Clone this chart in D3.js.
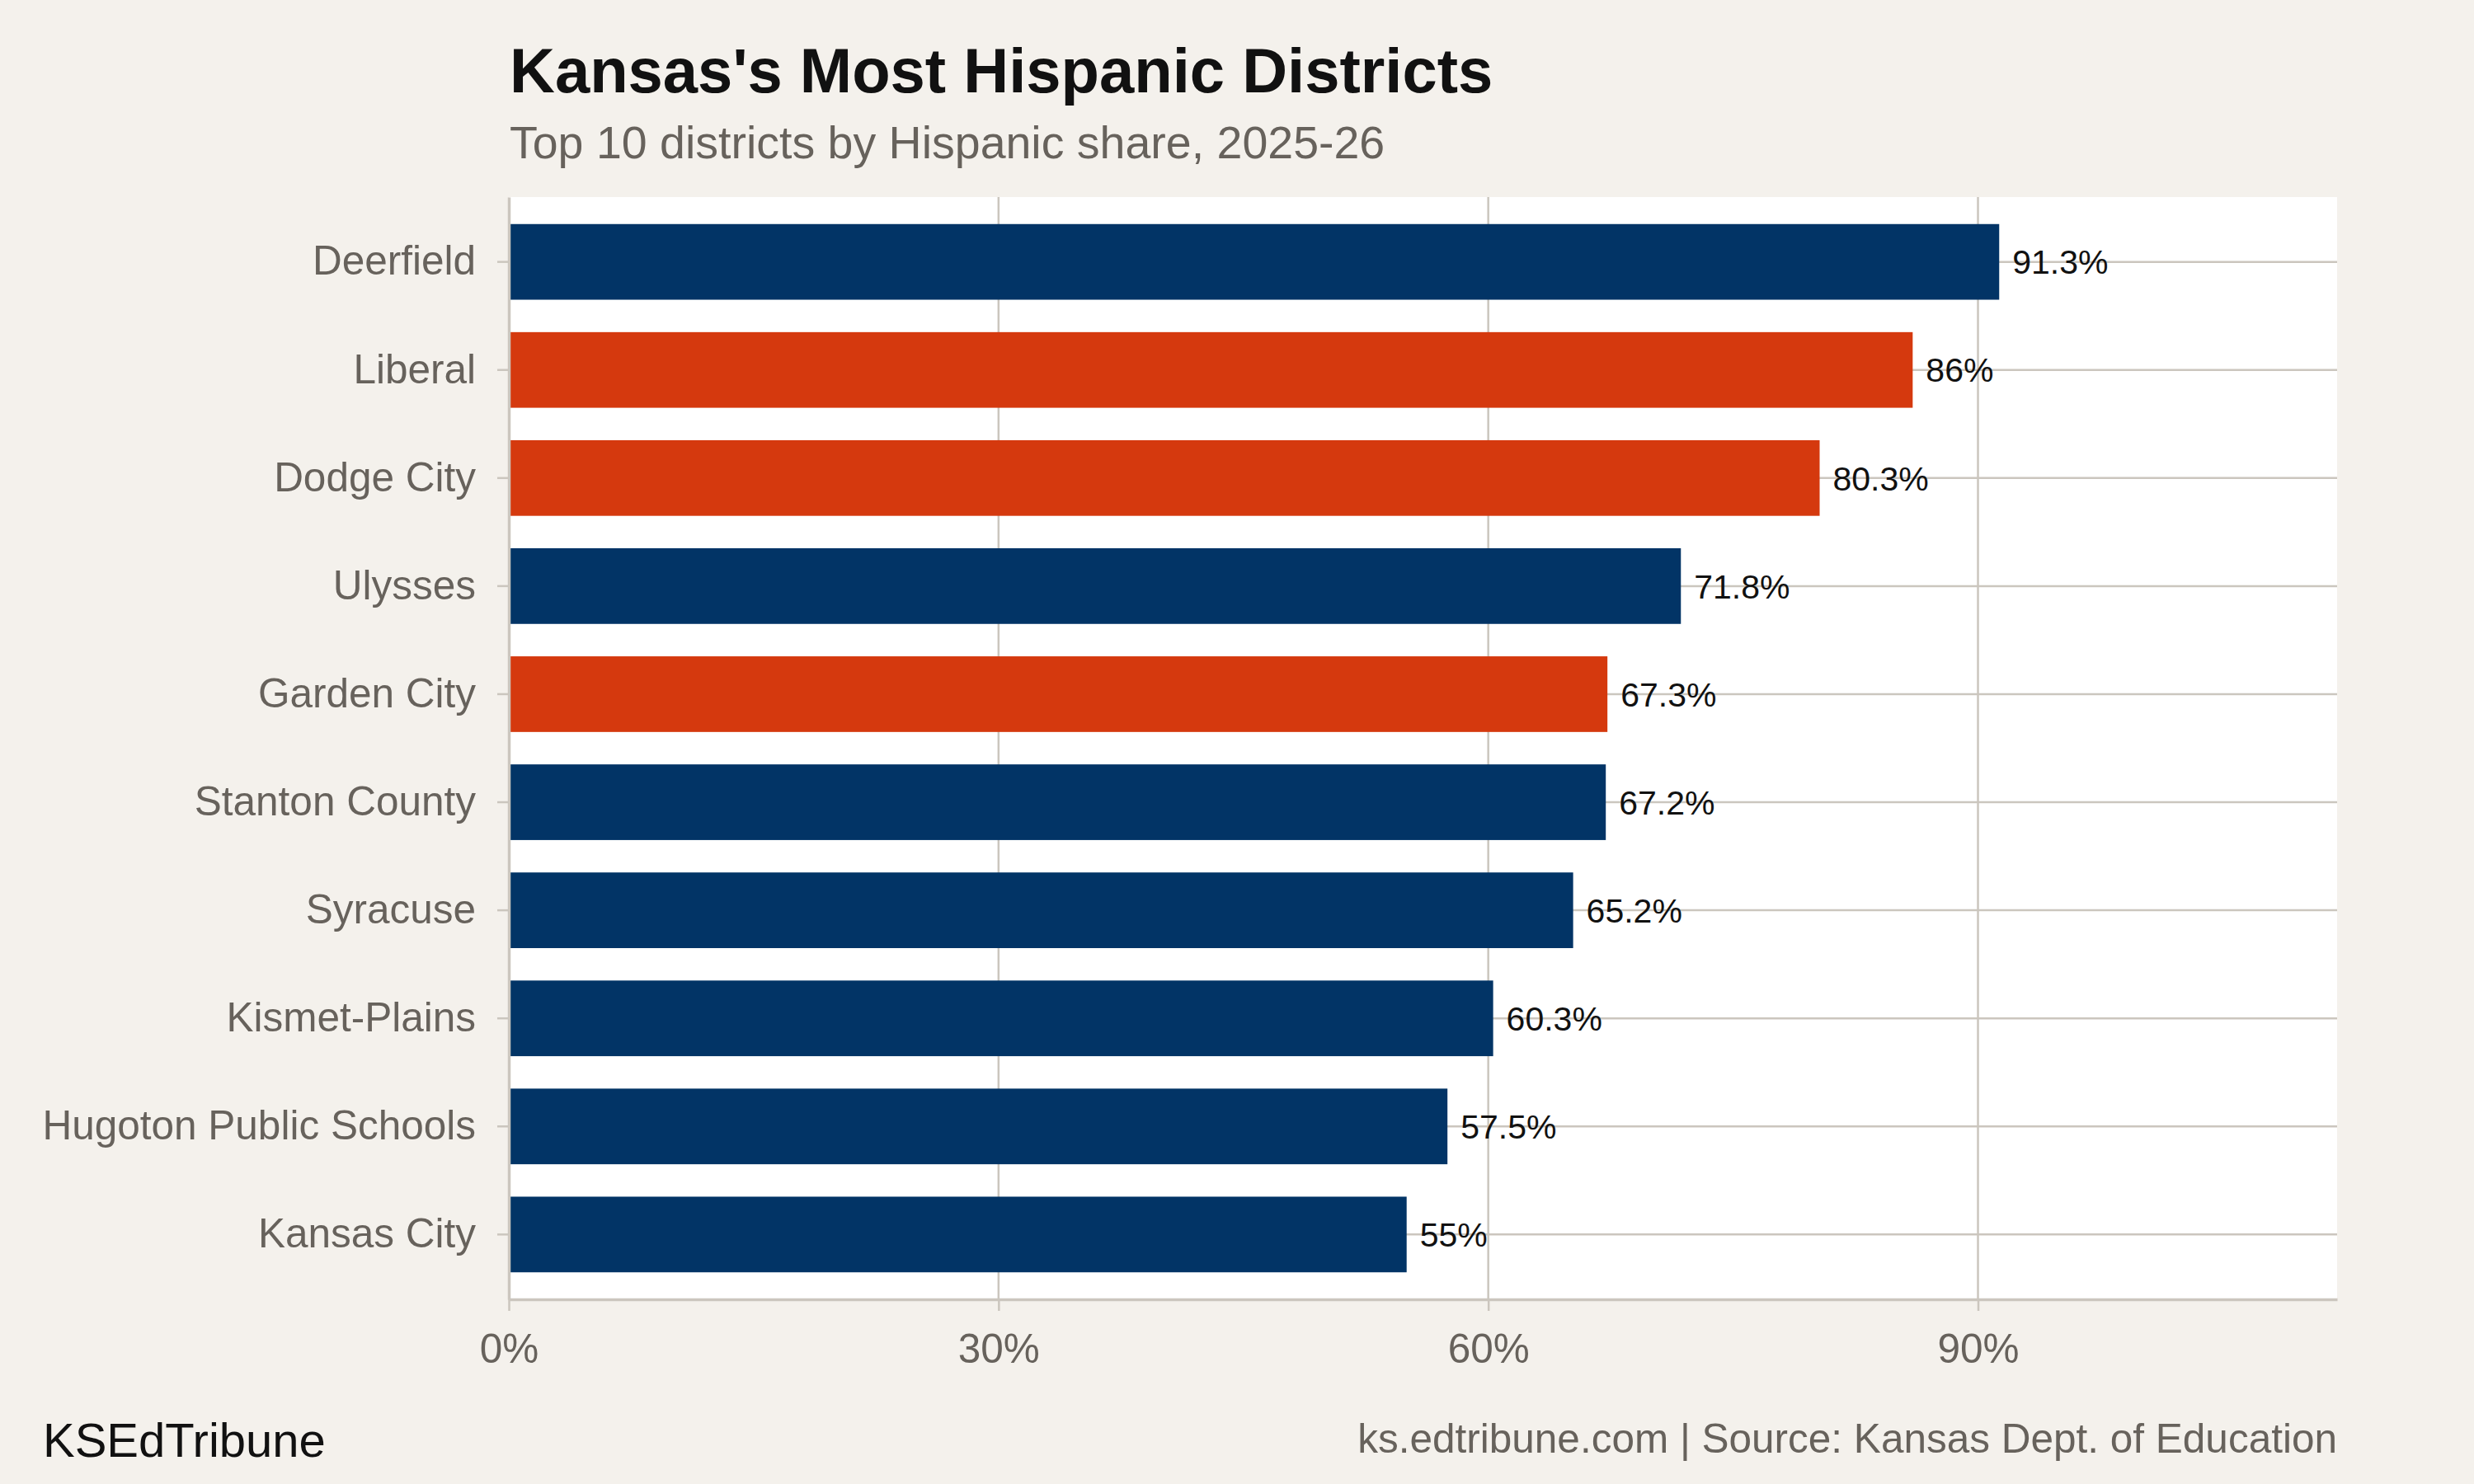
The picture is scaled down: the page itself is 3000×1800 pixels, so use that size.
<!DOCTYPE html>
<html>
<head>
<meta charset="utf-8">
<script src="https://cdn.jsdelivr.net/npm/d3@7"></script>
<style>
  body { margin: 0; background: #f4f1ec; }
  text { font-family: "Liberation Sans", Arial, sans-serif; }
</style>
</head>
<body>
<svg id="chart" width="3000" height="1800"></svg>
<script>
// data
const districts = ["Deerfield", "Liberal", "Dodge City", "Ulysses", "Garden City",
  "Stanton County", "Syracuse", "Kismet-Plains", "Hugoton Public Schools", "Kansas City"];
const shares = [91.3, 86, 80.3, 71.8, 67.3, 67.2, 65.2, 60.3, 57.5, 55];
const groups = ["other", "highlight", "highlight", "other", "highlight",
  "other", "other", "other", "other", "other"];
const xTicks = [0, 30, 60, 90];

const rows = districts.map((d, i) => ({ name: d, value: shares[i], group: groups[i] }));

const svg = d3.select("svg#chart");
const width = +svg.attr("width");
const height = +svg.attr("height");
const margin = { top: 239, right: 166, bottom: 224, left: 617 };
const chartWidth = width - margin.left - margin.right;
const chartHeight = height - margin.top - margin.bottom;

const gray = "#67625c";
const lineGray = "#cbc6be";

svg.append("rect")
  .attr("width", width)
  .attr("height", height)
  .attr("fill", "#f4f1ec");

const x = d3.scaleLinear().domain([0, 112]).range([0, chartWidth]);
const y = d3.scaleBand()
  .domain(districts)
  .range([0, chartHeight])
  .paddingInner(0.3)
  .paddingOuter(0.25);
const color = d3.scaleOrdinal()
  .domain(["other", "highlight"])
  .range(["#023466", "#d5390e"]);

const chartArea = svg.append("g")
  .attr("transform", `translate(${margin.left},${margin.top})`);

// panel
chartArea.append("rect")
  .attr("width", chartWidth)
  .attr("height", chartHeight)
  .attr("fill", "#ffffff");

// gridlines
chartArea.selectAll("line.vgrid")
  .data(xTicks.slice(1))
  .join("line")
  .attr("class", "vgrid")
  .attr("x1", d => x(d)).attr("x2", d => x(d))
  .attr("y1", 0).attr("y2", chartHeight)
  .style("stroke", lineGray)
  .style("stroke-width", 2.5);

chartArea.selectAll("line.hgrid")
  .data(districts)
  .join("line")
  .attr("class", "hgrid")
  .attr("x1", 0).attr("x2", chartWidth)
  .attr("y1", d => y(d) + y.bandwidth() / 2)
  .attr("y2", d => y(d) + y.bandwidth() / 2)
  .style("stroke", lineGray)
  .style("stroke-width", 2.5);

// bars
chartArea.selectAll("rect.bar")
  .data(rows)
  .join("rect")
  .attr("class", "bar")
  .attr("x", 0)
  .attr("y", d => y(d.name))
  .attr("width", d => x(d.value))
  .attr("height", y.bandwidth())
  .attr("fill", d => color(d.group));

// value labels
chartArea.selectAll("text.val")
  .data(rows)
  .join("text")
  .attr("class", "val")
  .attr("x", d => x(d.value) + 16)
  .attr("y", d => y(d.name) + y.bandwidth() / 2)
  .attr("dy", "0.36em")
  .style("font-size", "41px")
  .style("fill", "#111111")
  .text(d => d.value + "%");

// axes
const xAxis = chartArea.append("g")
  .attr("transform", `translate(0,${chartHeight})`)
  .call(d3.axisBottom(x).tickValues(xTicks).tickFormat(d => d + "%")
    .tickSize(14).tickSizeOuter(0).tickPadding(28));

const yAxis = chartArea.append("g")
  .call(d3.axisLeft(y).tickSize(14).tickSizeOuter(0).tickPadding(26));

[xAxis, yAxis].forEach(function (g) {
  g.select(".domain").style("stroke", lineGray).style("stroke-width", 3.5);
  g.selectAll(".tick line").style("stroke", lineGray).style("stroke-width", 2.5);
  g.selectAll(".tick text")
    .style("font-family", "'Liberation Sans', Arial, sans-serif")
    .style("font-size", "49.5px")
    .style("fill", gray);
});

// titles
svg.append("text")
  .attr("x", 618)
  .attr("y", 112)
  .style("font-size", "76px")
  .style("font-weight", "bold")
  .style("fill", "#111111")
  .text("Kansas's Most Hispanic Districts");

svg.append("text")
  .attr("x", 618)
  .attr("y", 192)
  .style("font-size", "55.5px")
  .style("fill", gray)
  .text("Top 10 districts by Hispanic share, 2025-26");

// footer
svg.append("text")
  .attr("x", 52)
  .attr("y", 1767)
  .style("font-size", "58px")
  .style("fill", "#111111")
  .text("KSEdTribune");

svg.append("text")
  .attr("x", margin.left + chartWidth)
  .attr("y", 1762)
  .attr("text-anchor", "end")
  .style("font-size", "49.5px")
  .style("fill", gray)
  .text("ks.edtribune.com | Source: Kansas Dept. of Education");
</script>
</body>
</html>
